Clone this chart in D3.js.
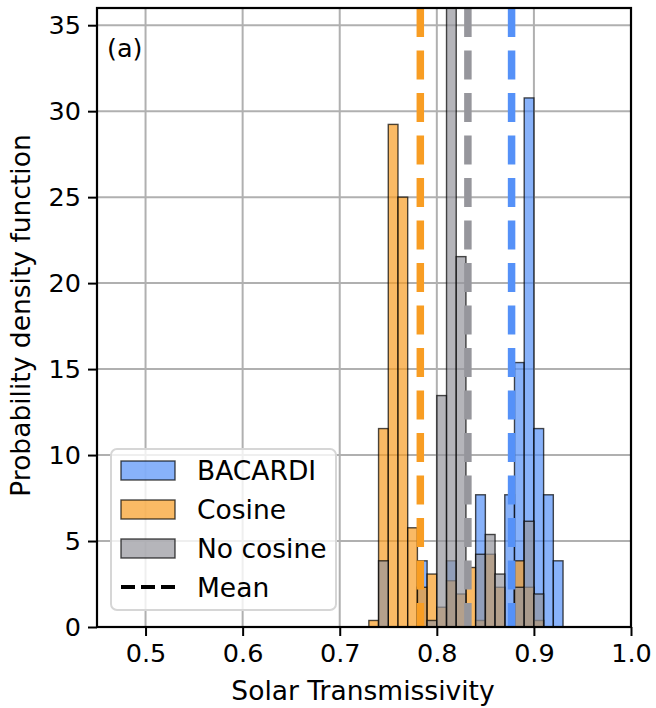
<!DOCTYPE html>
<html>
<head>
<meta charset="utf-8">
<script src="https://cdn.jsdelivr.net/npm/d3@7"></script>
<style>
  html, body { margin: 0; padding: 0; background: #fff; }
  svg { display: block; font-family: "DejaVu Sans", sans-serif; }
</style>
</head>
<body>
<svg id="chart" width="656" height="708"></svg>
<script>
// ---- data ----
const binStarts = [0.73, 0.74, 0.75, 0.76, 0.77, 0.78, 0.79, 0.80, 0.81, 0.82,
                   0.83, 0.84, 0.85, 0.86, 0.87, 0.88, 0.89, 0.90, 0.91, 0.92];
const binWidth = 0.01;
const bacardi   = [0, 0, 0, 0, 0, 3.85, 0, 0, 3.85, 0,
                   0, 7.69, 0, 0, 7.69, 15.38, 30.77, 11.54, 7.69, 3.85];
const cosine    = [0.38, 11.54, 29.23, 25.0, 5.77, 2.31, 3.08, 1.15, 2.69, 1.92,
                   3.46, 0.38, 4.23, 2.31, 0, 3.85, 2.31, 0.38, 0, 0];
const noCosine  = [0, 3.85, 0, 0, 0, 0, 0.38, 13.46, 37.7, 21.54,
                   0, 4.23, 5.38, 3.08, 0, 2.31, 6.15, 1.92, 0, 0];
const seriesNames = ["BACARDI", "Cosine", "No cosine"];
const seriesMeans = [0.877, 0.783, 0.832];
const xTicks = [0.5, 0.6, 0.7, 0.8, 0.9, 1.0];
const yTicks = [0, 5, 10, 15, 20, 25, 30, 35];
const xDomain = [0.45, 1.0];
const yDomain = [0, 36];

// ---- styles ----
const colors = ["#5591f8", "#f89d23", "#96969c"];
const seriesValues = [bacardi, cosine, noCosine];

const svg = d3.select("#chart");
const L = 97, R = 631, T = 8, B = 627;
const x = d3.scaleLinear().domain(xDomain).range([L, R]);
const y = d3.scaleLinear().domain(yDomain).range([B, T]);

svg.append("defs").append("clipPath").attr("id", "clip")
  .append("rect").attr("x", L).attr("y", T).attr("width", R - L).attr("height", B - T);

// grid
const grid = svg.append("g");
grid.selectAll("line.gx").data(xTicks).join("line")
  .attr("x1", d => x(d)).attr("x2", d => x(d)).attr("y1", T).attr("y2", B)
  .attr("stroke", "#b0b0b0").attr("stroke-width", 2);
grid.selectAll("line.gy").data(yTicks).join("line")
  .attr("y1", d => y(d)).attr("y2", d => y(d)).attr("x1", L).attr("x2", R)
  .attr("stroke", "#b0b0b0").attr("stroke-width", 2);

// bars
const plot = svg.append("g").attr("clip-path", "url(#clip)");
seriesValues.forEach((vals, si) => {
  const data = binStarts.map((b, i) => ({ b, v: vals[i] })).filter(d => d.v > 0);
  plot.append("g").selectAll("rect").data(data).join("rect")
    .attr("x", d => x(d.b))
    .attr("width", d => x(d.b + binWidth) - x(d.b))
    .attr("y", d => y(d.v))
    .attr("height", d => y(0) - y(d.v))
    .attr("fill", colors[si]).attr("fill-opacity", 0.7)
    .attr("stroke", "#000").attr("stroke-opacity", 0.7).attr("stroke-width", 1.4);
});

// mean lines
plot.append("g").selectAll("line").data(seriesMeans).join("line")
  .attr("x1", d => x(d)).attr("x2", d => x(d)).attr("y1", T).attr("y2", B)
  .attr("stroke", (d, i) => colors[i]).attr("stroke-width", 7.5)
  .attr("stroke-dasharray", "29,13.5");

// axes
const xAxis = svg.append("g").attr("transform", `translate(0,${B})`)
  .call(d3.axisBottom(x).tickValues(xTicks).tickFormat(d3.format(".1f")).tickSize(9).tickPadding(8));
const yAxis = svg.append("g").attr("transform", `translate(${L},0)`)
  .call(d3.axisLeft(y).tickValues(yTicks).tickFormat(d3.format("d")).tickSize(9).tickPadding(7));
[xAxis, yAxis].forEach(a => {
  a.select(".domain").remove();
  a.selectAll(".tick line").attr("stroke", "#000").attr("stroke-width", 2);
  a.selectAll(".tick text").attr("font-size", 25.5).attr("fill", "#000")
    .attr("font-family", "DejaVu Sans, sans-serif");
});

// spines
svg.append("rect").attr("x", L).attr("y", T).attr("width", R - L).attr("height", B - T)
  .attr("fill", "none").attr("stroke", "#000").attr("stroke-width", 2.2);

// labels
svg.append("text").attr("x", (L + R) / 2 - 1).attr("y", 700).attr("text-anchor", "middle")
  .attr("font-size", 26.5).text("Solar Transmissivity");
svg.append("text").attr("transform", `translate(30,${(T + B) / 2 - 2}) rotate(-90)`)
  .attr("text-anchor", "middle").attr("font-size", 26.5).text("Probability density function");
svg.append("text").attr("x", 107).attr("y", 57).attr("font-size", 25.5).text("(a)");

// legend
const lg = svg.append("g");
lg.append("rect").attr("x", 111).attr("y", 449).attr("width", 225).attr("height", 161)
  .attr("rx", 6).attr("fill", "#fff").attr("fill-opacity", 0.8)
  .attr("stroke", "#d6d6d6").attr("stroke-width", 2);
const rowY = [480, 519, 558, 597];
seriesNames.forEach((n, i) => {
  lg.append("rect").attr("x", 121).attr("y", rowY[i] - 19).attr("width", 54).attr("height", 19)
    .attr("fill", colors[i]).attr("fill-opacity", 0.7)
    .attr("stroke", "#000").attr("stroke-opacity", 0.7).attr("stroke-width", 1.4);
  lg.append("text").attr("x", 197).attr("y", rowY[i]).attr("font-size", 26.5).text(n);
});
lg.append("line").attr("x1", 121).attr("x2", 175).attr("y1", 587).attr("y2", 587)
  .attr("stroke", "#000").attr("stroke-width", 4).attr("stroke-dasharray", "14,6");
lg.append("text").attr("x", 197).attr("y", rowY[3]).attr("font-size", 26.5).text("Mean");
</script>
</body>
</html>
